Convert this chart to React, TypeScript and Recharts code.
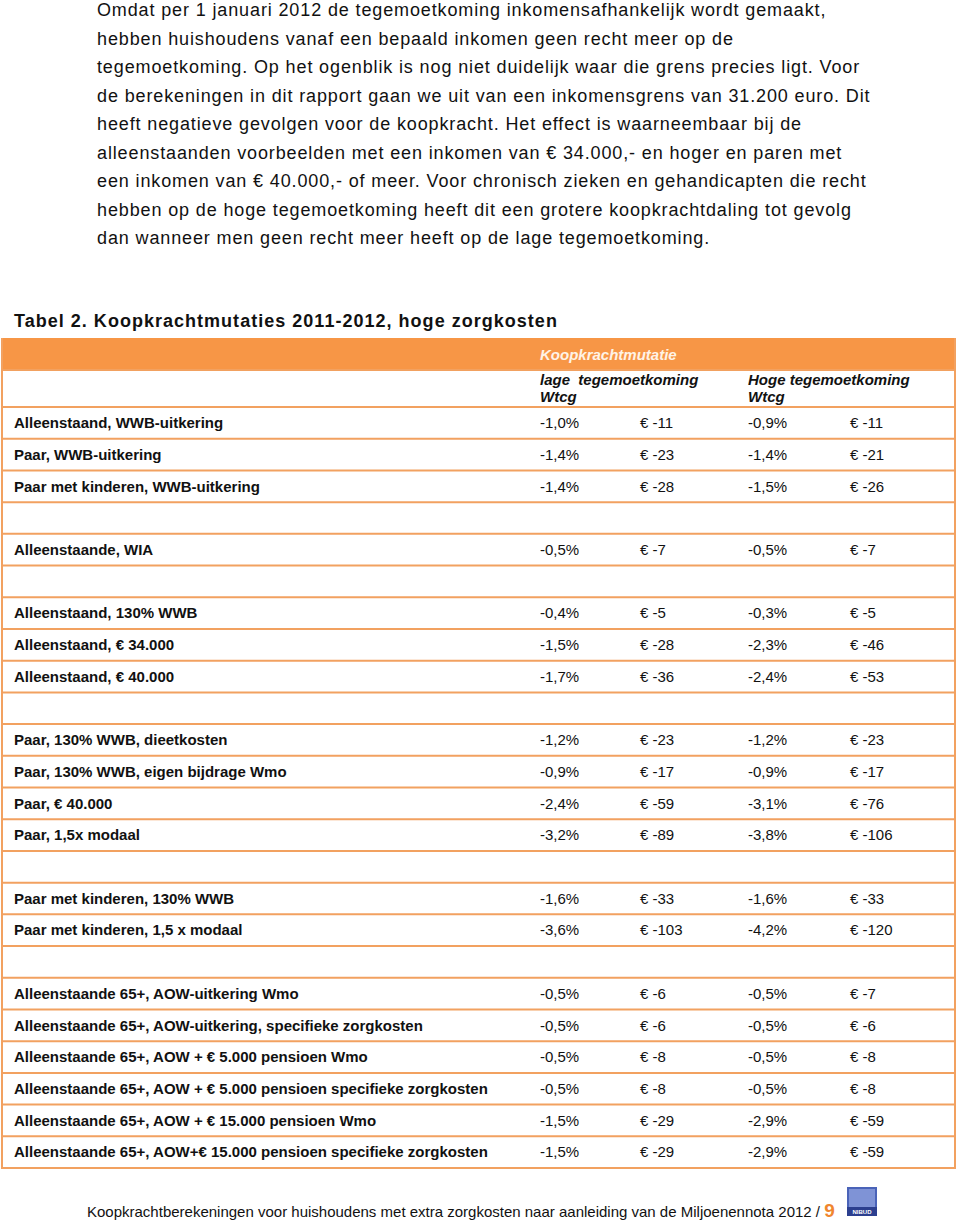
import React from "react";
import { ComposedChart, Bar, XAxis, YAxis } from "recharts";

const rowLabels: string[] = [
  "Alleenstaand, WWB-uitkering",
  "Paar, WWB-uitkering",
  "Paar met kinderen, WWB-uitkering",
  "",
  "Alleenstaande, WIA",
  "",
  "Alleenstaand, 130% WWB",
  "Alleenstaand, \u20ac 34.000",
  "Alleenstaand, \u20ac 40.000",
  "",
  "Paar, 130% WWB, dieetkosten",
  "Paar, 130% WWB, eigen bijdrage Wmo",
  "Paar, \u20ac 40.000",
  "Paar, 1,5x modaal",
  "",
  "Paar met kinderen, 130% WWB",
  "Paar met kinderen, 1,5 x modaal",
  "",
  "Alleenstaande 65+, AOW-uitkering Wmo",
  "Alleenstaande 65+, AOW-uitkering, specifieke zorgkosten",
  "Alleenstaande 65+, AOW + \u20ac 5.000 pensioen Wmo",
  "Alleenstaande 65+, AOW + \u20ac 5.000 pensioen specifieke zorgkosten",
  "Alleenstaande 65+, AOW + \u20ac 15.000 pensioen Wmo",
  "Alleenstaande 65+, AOW+\u20ac 15.000 pensioen specifieke zorgkosten",
];

const rowIds: string[] = rowLabels.map((_, i) => "r" + i);

const pctLow: (number | null)[] = [-1.0, -1.4, -1.4, null, -0.5, null, -0.4, -1.5, -1.7, null, -1.2, -0.9, -2.4, -3.2, null, -1.6, -3.6, null, -0.5, -0.5, -0.5, -0.5, -1.5, -1.5];
const eurLow: (number | null)[] = [-11, -23, -28, null, -7, null, -5, -28, -36, null, -23, -17, -59, -89, null, -33, -103, null, -6, -6, -8, -8, -29, -29];
const pctHigh: (number | null)[] = [-0.9, -1.4, -1.5, null, -0.5, null, -0.3, -2.3, -2.4, null, -1.2, -0.9, -3.1, -3.8, null, -1.6, -4.2, null, -0.5, -0.5, -0.5, -0.5, -2.9, -2.9];
const eurHigh: (number | null)[] = [-11, -21, -26, null, -7, null, -5, -46, -53, null, -23, -17, -76, -106, null, -33, -120, null, -7, -6, -8, -8, -59, -59];

const headerGroup = "Koopkrachtmutatie";
const headerLow = ["lage  tegemoetkoming", "Wtcg"];
const headerHigh = ["Hoge tegemoetkoming", "Wtcg"];

const paragraph: string[] = [
  "Omdat per 1 januari 2012 de tegemoetkoming inkomensafhankelijk wordt gemaakt,",
  "hebben huishoudens vanaf een bepaald inkomen geen recht meer op de",
  "tegemoetkoming. Op het ogenblik is nog niet duidelijk waar die grens precies ligt. Voor",
  "de berekeningen in dit rapport gaan we uit van een inkomensgrens van 31.200 euro. Dit",
  "heeft negatieve gevolgen voor de koopkracht. Het effect is waarneembaar bij de",
  "alleenstaanden voorbeelden met een inkomen van \u20ac 34.000,- en hoger en paren met",
  "een inkomen van \u20ac 40.000,- of meer. Voor chronisch zieken en gehandicapten die recht",
  "hebben op de hoge tegemoetkoming heeft dit een grotere koopkrachtdaling tot gevolg",
  "dan wanneer men geen recht meer heeft op de lage tegemoetkoming.",
];

const title = "Tabel 2. Koopkrachtmutaties 2011-2012, hoge zorgkosten";
const footer = "Koopkrachtberekeningen voor huishoudens met extra zorgkosten naar aanleiding van de Miljoenennota 2012 / ";
const pageNo = "9";

const data = rowLabels.map((label, i) => ({
  id: rowIds[i],
  label,
  pctLow: pctLow[i],
  eurLow: eurLow[i],
  pctHigh: pctHigh[i],
  eurHigh: eurHigh[i],
}));

const FONT = "'Liberation Sans', Arial, sans-serif";
const ORANGE = "#F79646";
const LINE = "#F2A160";
const W = 960;
const H = 1221;
const TOP = 407;
const BOTTOM = 1168;
const BAND = (BOTTOM - TOP) / rowLabels.length;

const fmtPct = (v: number | null) => (v == null ? "" : v.toFixed(1).replace(".", ",") + "%");
const fmtEur = (v: number | null) => (v == null ? "" : "\u20ac " + String(v));

const renderRow = (props: any) => {
  const { y, payload } = props;
  let i = rowIds.indexOf(payload && payload.value);
  if (i < 0) i = typeof props.index === "number" ? props.index : -1;
  const d = data[i];
  if (!d) return <g />;
  return (
    <g key={"row" + i}>
      <line x1={2} x2={955} y1={y + BAND / 2} y2={y + BAND / 2} stroke={LINE} strokeWidth={2} />
      <text x={14} y={y} dy="0.35em" fontFamily={FONT} fontSize={15} fontWeight="bold" fill="#111" textAnchor="start">
        {d.label}
      </text>
      <text x={540} y={y} dy="0.35em" fontFamily={FONT} fontSize={15} fill="#111" textAnchor="start">{fmtPct(d.pctLow)}</text>
      <text x={640} y={y} dy="0.35em" fontFamily={FONT} fontSize={15} fill="#111" textAnchor="start">{fmtEur(d.eurLow)}</text>
      <text x={748} y={y} dy="0.35em" fontFamily={FONT} fontSize={15} fill="#111" textAnchor="start">{fmtPct(d.pctHigh)}</text>
      <text x={850} y={y} dy="0.35em" fontFamily={FONT} fontSize={15} fill="#111" textAnchor="start">{fmtEur(d.eurHigh)}</text>
    </g>
  );
};

export default function App() {
  return (
    <div style={{ position: "absolute", left: 0, top: 0, width: W, height: H, background: "#fff", overflow: "hidden", fontFamily: FONT }}>
      <div
        style={{
          position: "absolute",
          left: 97,
          top: -4,
          fontSize: 18,
          lineHeight: "28.5px",
          letterSpacing: "0.87px",
          color: "#111",
          whiteSpace: "pre",
        }}
      >
        {paragraph.map((l, i) => (
          <div key={i}>{l}</div>
        ))}
      </div>
      <div
        style={{
          position: "absolute",
          left: 14,
          top: 309,
          fontSize: 18,
          lineHeight: "24px",
          fontWeight: "bold",
          letterSpacing: "1.02px",
          color: "#111",
          whiteSpace: "pre",
        }}
      >
        {title}
      </div>
      <svg style={{ position: "absolute", left: 0, top: 0 }} width={W} height={H}>
        <rect x={2} y={338} width={953} height={32} fill={ORANGE} />
        <line x1={2} x2={955} y1={370} y2={370} stroke={LINE} strokeWidth={2} />
        <line x1={2} x2={955} y1={407} y2={407} stroke={LINE} strokeWidth={2} />
        <line x1={2} x2={2} y1={338} y2={1169} stroke={LINE} strokeWidth={2} />
        <line x1={955} x2={955} y1={338} y2={1169} stroke={LINE} strokeWidth={2} />
        <text x={540} y={355} dy="0.35em" fontFamily={FONT} fontSize={15} fontStyle="italic" fontWeight="bold" fill="#fff3e6">
          {headerGroup}
        </text>
        {headerLow.map((t, i) => (
          <text key={"l" + i} x={540} y={380 + i * 17} dy="0.35em" fontFamily={FONT} fontSize={15} fontStyle="italic" fontWeight="bold" fill="#111" style={{ whiteSpace: "pre" }}>
            {t}
          </text>
        ))}
        {headerHigh.map((t, i) => (
          <text key={"h" + i} x={748} y={380 + i * 17} dy="0.35em" fontFamily={FONT} fontSize={15} fontStyle="italic" fontWeight="bold" fill="#111">
            {t}
          </text>
        ))}
        <g transform="translate(847,1187)">
          <rect x={0} y={0} width={30} height={29} fill="#4a63b8" />
          <rect x={2} y={2} width={26} height={18} fill="#7f93d6" />
          <rect x={0} y={20} width={30} height={9} fill="#2c3f8f" />
          <text x={15} y={27} textAnchor="middle" fontFamily={FONT} fontSize={6} fontWeight="bold" fill="#fff">NIBUD</text>
        </g>
      </svg>
      <div style={{ position: "absolute", left: 0, top: 0, width: W, height: H }}>
        <ComposedChart
          width={W}
          height={H}
          data={data}
          layout="vertical"
          margin={{ top: TOP, bottom: H - BOTTOM, left: 0, right: 0 }}
        >
          <XAxis type="number" hide />
          <YAxis
            type="category"
            dataKey="id"
            width={2}
            axisLine={false}
            tickLine={false}
            interval={0}
            tick={renderRow}
          />
          <Bar dataKey="eurLow" fill="#ffffff" fillOpacity={0} isAnimationActive={false} />
        </ComposedChart>
      </div>
      <div
        style={{
          position: "absolute",
          left: 87,
          top: 1201,
          fontSize: 15,
          lineHeight: "20px",
          color: "#111",
          whiteSpace: "pre",
        }}
      >
        {footer}
        <span style={{ color: "#F0862E", fontWeight: "bold", fontSize: 19 }}>{pageNo}</span>
      </div>
    </div>
  );
}
